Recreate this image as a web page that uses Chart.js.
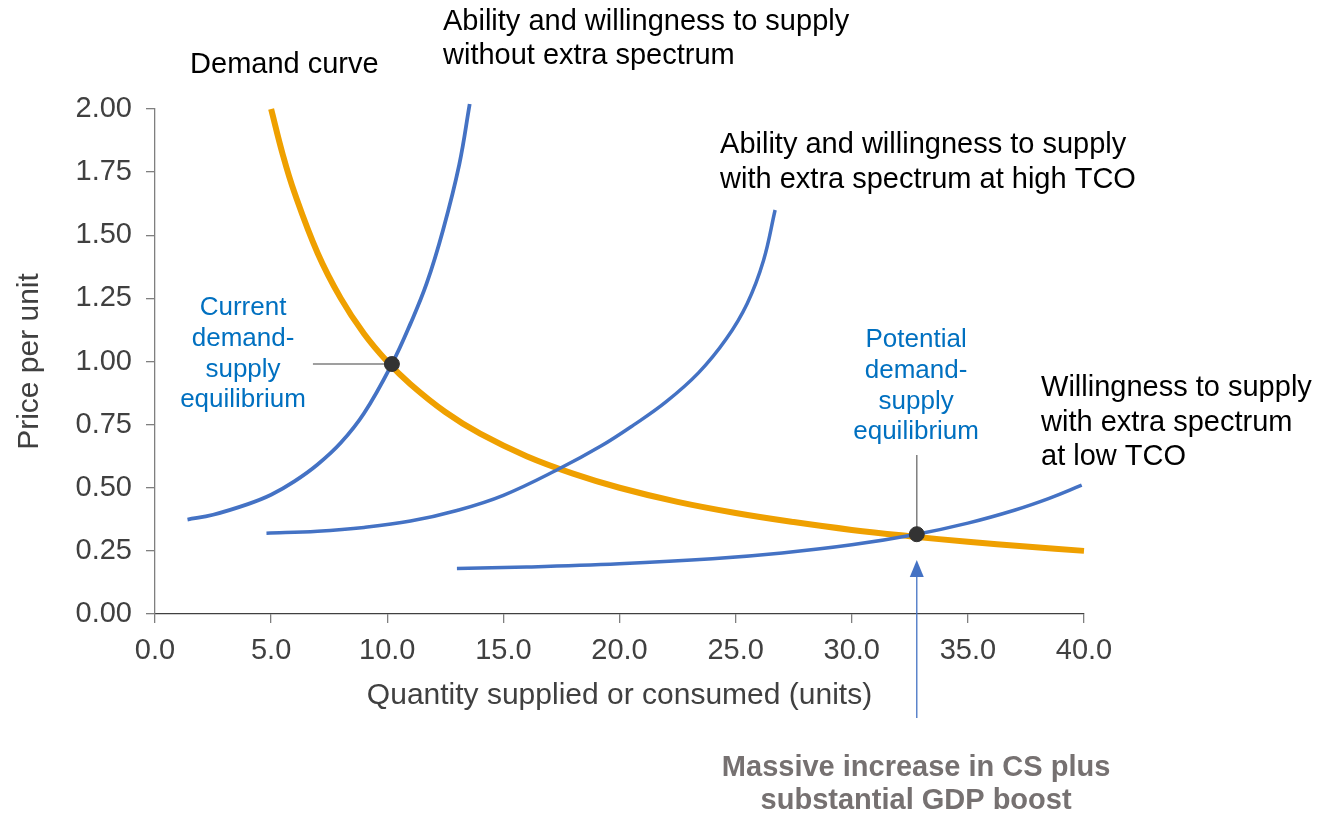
<!DOCTYPE html>
<html lang="en">
<head>
<meta charset="UTF-8">
<title>Spectrum supply and demand</title>
<script src="https://cdn.jsdelivr.net/npm/chart.js"></script>
<style>
    html, body { margin: 0; padding: 0; background: #fff; }
    #wrap { width: 1319px; height: 813px; }
</style>
</head>
<body>
<div id="wrap"><canvas id="chart" width="1319" height="813"></canvas></div>
<script>
// values
const demandQty   = [5, 5.5, 6, 7, 8, 9, 10, 11, 12.5, 14, 16, 18, 20, 22.5, 25, 27.5, 30, 32.5, 35, 37.5, 40];
const demandPrice = [2.0, 1.82, 1.67, 1.43, 1.25, 1.11, 1.0, 0.91, 0.8, 0.714, 0.625, 0.556, 0.5, 0.444, 0.4, 0.364, 0.333, 0.308, 0.286, 0.267, 0.25];

const supplyNowQty   = [1.4, 2.5, 4, 5, 6, 7, 8, 9, 10.2, 11, 11.7, 12.4, 13.1, 13.55];
const supplyNowPrice = [0.374, 0.393, 0.435, 0.472, 0.525, 0.592, 0.678, 0.795, 0.99, 1.15, 1.31, 1.52, 1.78, 2.02];

const supplyHighQty   = [4.8, 7, 9, 11, 13, 15, 17.4, 19.2, 20.6, 22.0, 23.4, 24.6, 25.5, 26.2, 26.7];
const supplyHighPrice = [0.32, 0.328, 0.343, 0.368, 0.41, 0.47, 0.575, 0.665, 0.748, 0.84, 0.955, 1.09, 1.23, 1.40, 1.60];

const supplyLowQty   = [13, 16, 20, 24, 27, 30, 32.8, 35, 37, 38.5, 39.9];
const supplyLowPrice = [0.18, 0.186, 0.199, 0.219, 0.242, 0.274, 0.316, 0.36, 0.411, 0.458, 0.51];

const eqQty   = [10.2, 32.8];
const eqPrice = [0.99, 0.316];

const xTicks = [0, 5, 10, 15, 20, 25, 30, 35, 40];
const yTicks = [0, 0.25, 0.5, 0.75, 1.0, 1.25, 1.5, 1.75, 2.0];

const toPoints = (xs, ys) => xs.map((x, i) => ({ x: x, y: ys[i] }));

const ORANGE = '#EFA000';
const BLUE = '#4472C4';
const LABEL_BLUE = '#0070C0';

// label text, anchored in data units
const blackLabels = [
    { x: 1.51,  y: 2.174, lines: ['Demand curve'] },
    { x: 12.4,  y: 2.345, lines: ['Ability and willingness to supply', 'without extra spectrum'] },
    { x: 24.33, y: 1.857, lines: ['Ability and willingness to supply', 'with extra spectrum at high TCO'] },
    { x: 38.15, y: 0.895, lines: ['Willingness to supply', 'with extra spectrum', 'at low TCO'] }
];
const blueLabels = [
    { x: 3.79,  y: 1.212, lines: ['Current', 'demand-', 'supply', 'equilibrium'] },
    { x: 32.77, y: 1.085, lines: ['Potential', 'demand-', 'supply', 'equilibrium'] }
];
const noteLabel = { x: 32.77, y: -0.61, lines: ['Massive increase in CS plus', 'substantial GDP boost'] };

const annotations = {
    id: 'annotations',
    beforeDatasetsDraw(chart) {
        const { ctx, scales: { x, y } } = chart;
        ctx.save();
        ctx.strokeStyle = '#7f7f7f';
        ctx.lineWidth = 1.5;
        // leader to current equilibrium
        ctx.beginPath();
        ctx.moveTo(x.getPixelForValue(6.8), y.getPixelForValue(eqPrice[0]));
        ctx.lineTo(x.getPixelForValue(eqQty[0]), y.getPixelForValue(eqPrice[0]));
        ctx.stroke();
        // leader to potential equilibrium
        ctx.beginPath();
        ctx.moveTo(x.getPixelForValue(eqQty[1]), y.getPixelForValue(0.63));
        ctx.lineTo(x.getPixelForValue(eqQty[1]), y.getPixelForValue(eqPrice[1]));
        ctx.stroke();
        ctx.restore();
    },
    afterDraw(chart) {
        const { ctx, chartArea, scales: { x, y } } = chart;
        ctx.save();

        // arrow up to the potential equilibrium
        const ax = x.getPixelForValue(eqQty[1]);
        const tip = y.getPixelForValue(0.214);
        const tail = y.getPixelForValue(-0.412);
        ctx.strokeStyle = BLUE;
        ctx.fillStyle = BLUE;
        ctx.lineWidth = 1.3;
        ctx.beginPath();
        ctx.moveTo(ax, tail);
        ctx.lineTo(ax, tip + 14);
        ctx.stroke();
        ctx.beginPath();
        ctx.moveTo(ax, tip);
        ctx.lineTo(ax - 7, tip + 17);
        ctx.lineTo(ax + 7, tip + 17);
        ctx.closePath();
        ctx.fill();

        ctx.textBaseline = 'middle';

        ctx.fillStyle = '#000';
        ctx.textAlign = 'left';
        ctx.font = '29px "Liberation Sans", Arial, sans-serif';
        blackLabels.forEach(l => {
            const px = x.getPixelForValue(l.x), py = y.getPixelForValue(l.y);
            l.lines.forEach((t, i) => ctx.fillText(t, px, py + i * 34.5));
        });

        ctx.fillStyle = LABEL_BLUE;
        ctx.textAlign = 'center';
        ctx.font = '26px "Liberation Sans", Arial, sans-serif';
        blueLabels.forEach(l => {
            const px = x.getPixelForValue(l.x), py = y.getPixelForValue(l.y);
            l.lines.forEach((t, i) => ctx.fillText(t, px, py + i * 30.7));
        });

        ctx.fillStyle = '#767171';
        ctx.font = 'bold 29px "Liberation Sans", Arial, sans-serif';
        const nx = x.getPixelForValue(noteLabel.x), ny = y.getPixelForValue(noteLabel.y);
        noteLabel.lines.forEach((t, i) => ctx.fillText(t, nx, ny + i * 33));

        // axis titles
        ctx.fillStyle = '#404040';
        ctx.font = '30px "Liberation Sans", Arial, sans-serif';
        ctx.fillText('Quantity supplied or consumed (units)', (chartArea.left + chartArea.right) / 2, chartArea.bottom + 82);
        ctx.translate(30, (chartArea.top + chartArea.bottom) / 2);
        ctx.rotate(-Math.PI / 2);
        ctx.fillText('Price per unit', 0, 0);

        ctx.restore();
    }
};

const curve = (label, xs, ys, color, width, order) => ({
    label: label,
    data: toPoints(xs, ys),
    showLine: true,
    borderColor: color,
    borderWidth: width,
    pointRadius: 0,
    tension: 0.4,
    order: order,
    clip: false
});

const ctx = document.getElementById('chart').getContext('2d');
const chart = new Chart(ctx, {
    type: 'scatter',
    data: {
        datasets: [
            {
                label: 'Equilibrium',
                data: toPoints(eqQty, eqPrice),
                showLine: false,
                pointRadius: 7.5,
                pointBackgroundColor: '#333333',
                pointBorderColor: '#333333',
                order: 0,
                clip: false
            },
            curve('Without extra spectrum', supplyNowQty, supplyNowPrice, BLUE, 3.8, 1),
            curve('High TCO', supplyHighQty, supplyHighPrice, BLUE, 3.5, 1),
            curve('Low TCO', supplyLowQty, supplyLowPrice, BLUE, 3.5, 1),
            curve('Demand curve', demandQty, demandPrice, ORANGE, 6, 2)
        ]
    },
    options: {
        responsive: false,
        animation: false,
        devicePixelRatio: 1,
        layout: { padding: { top: 109, right: 235, left: 0, bottom: 0 } },
        plugins: {
            legend: { display: false },
            tooltip: { enabled: false }
        },
        scales: {
            x: {
                type: 'linear',
                min: 0,
                max: 40,
                afterBuildTicks: s => { s.ticks = xTicks.map(v => ({ value: v })); },
                afterFit: s => { s.height = 199; },
                grid: { display: true, drawOnChartArea: false, drawTicks: true, tickLength: 9, color: '#7f7f7f', lineWidth: 1.3 },
                border: { display: true, color: '#404040', width: 1.3 },
                ticks: {
                    padding: 11,
                    maxRotation: 0,
                    color: '#404040',
                    font: { family: '"Liberation Sans", Arial, sans-serif', size: 29 },
                    callback: v => Number(v).toFixed(1)
                }
            },
            y: {
                type: 'linear',
                min: 0,
                max: 2,
                afterBuildTicks: s => { s.ticks = yTicks.map(v => ({ value: v })); },
                afterFit: s => { s.width = 155; },
                grid: { display: true, drawOnChartArea: false, drawTicks: true, tickLength: 9, color: '#7f7f7f', lineWidth: 1.3 },
                border: { display: true, color: '#7f7f7f', width: 1.3 },
                ticks: {
                    padding: 14,
                    color: '#404040',
                    font: { family: '"Liberation Sans", Arial, sans-serif', size: 29 },
                    callback: v => Number(v).toFixed(2)
                }
            }
        }
    },
    plugins: [annotations]
});
</script>
</body>
</html>
